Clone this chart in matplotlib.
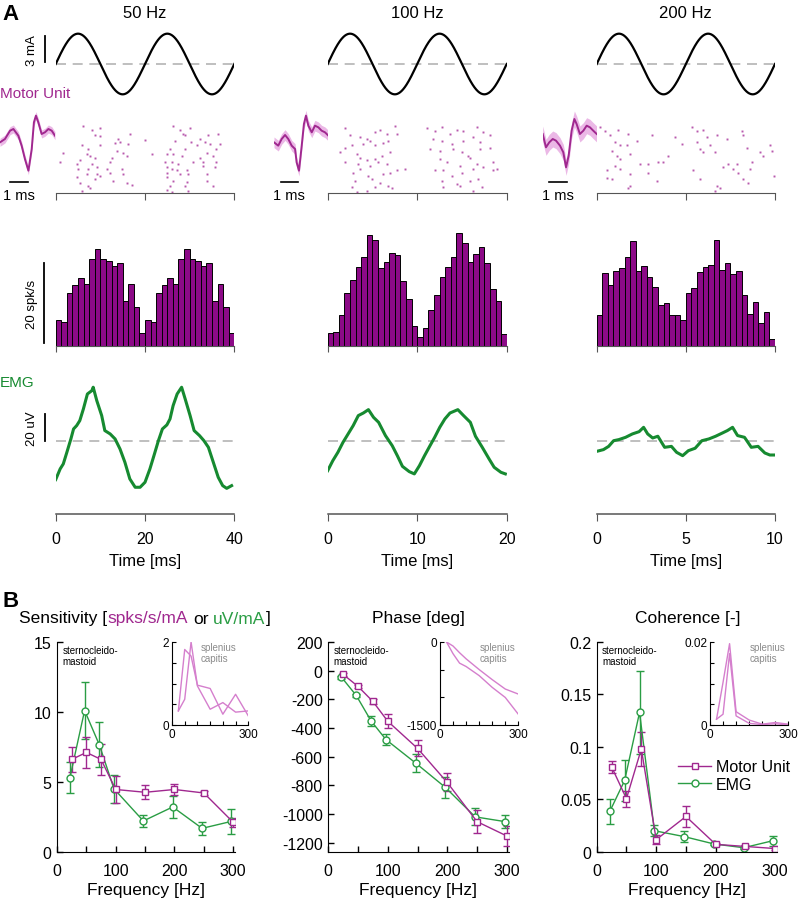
import numpy as np
import matplotlib
matplotlib.use("Agg")
import matplotlib.pyplot as plt
from matplotlib.lines import Line2D

plt.rcParams["font.family"] = ["Liberation Sans", "DejaVu Sans"]
plt.rcParams["axes.unicode_minus"] = False

W, H = 800, 904

MU_COLOR = "#a0288f"
MU_LIGHT = "#d57fcd"
BAND_COLOR = "#ebb8e6"
DOT_COLOR = "#b85aae"
BAR_COLOR = "#8c0a87"
EMG_COLOR = "#168a30"
GREEN = "#2a9d44"
DASH_COLOR = "#b4b4b4"
AXIS_GREY = "#555555"

# ---------------- panel A data ----------------
STIM_FREQS = [50, 100, 200]          # Hz
WINDOWS_MS = [40, 20, 10]            # two stimulus cycles
STIM_AMP_MA = 3.5

# mean motor unit waveform (ms, a.u.) and its spread
WAVE_50_T = [0, 0.27, 0.55, 0.73, 1.0, 1.18, 1.36, 1.55, 1.73, 1.85, 1.96, 2.09, 2.27, 2.45, 2.64, 2.82, 3.0]
WAVE_50_V = [0, 1.0, 3.5, 4.0, 2.0, -1.0, -5.0, -8.5, -2.0, 6.0, 8.0, 6.0, 2.5, 3.0, 4.0, 3.5, 2.0]
WAVE_100_T = [0, 0.25, 0.45, 0.65, 0.84, 1.04, 1.24, 1.33, 1.47, 1.63, 1.76, 1.88, 2.02, 2.22, 2.41, 2.61, 2.80, 3.0, 3.2]
WAVE_100_V = [0, -1.0, 1.0, 2.2, 1.0, -1.0, -2.0, -6.0, -8.5, -1.0, 5.5, 8.0, 5.0, 3.0, 5.0, 4.5, 3.5, 3.0, 2.0]
WAVE_200_T = [0, 0.19, 0.38, 0.58, 0.77, 1.0, 1.19, 1.35, 1.5, 1.67, 1.83, 1.96, 2.15, 2.35, 2.54, 2.73, 2.92, 3.12]
WAVE_200_V = [2.5, -1.5, 0, 1.0, 0.5, -1.0, -3.0, -7.5, -4.0, 3.5, 7.0, 5.5, 2.5, 3.5, 5.0, 4.5, 3.5, 2.5]
WAVE_SPREAD = [1.2, 1.6, 2.4]

# spike raster (time in ms, trial number)
RASTER_50 = [
    (6.2, 1), (8.1, 4), (9.9, 3), (8.8, 9), (9.9, 10), (14.0, 12), (16.6, 8), (13.3, 16), (14.4, 15),
    (5.8, 18), (7.3, 21), (9.9, 18), (16.3, 17), (20.0, 13), (1.7, 25), (6.9, 26), (7.7, 27), (13.7, 23),
    (15.1, 25), (15.9, 27), (21.5, 26), (5.4, 31), (8.8, 29), (12.5, 29), (1.0, 33), (4.7, 34), (8.1, 34),
    (12.2, 33), (9.2, 37), (5.1, 39), (7.3, 39), (11.4, 39), (14.8, 39), (6.9, 43), (9.2, 43), (9.9, 45),
    (12.2, 42), (15.1, 43), (4.7, 46), (8.8, 48), (12.9, 49), (5.4, 51), (7.3, 54), (17.0, 53), (5.8, 58),
    (7.7, 56), (15.9, 51),
    (26.2, 1), (27.8, 4), (30.1, 3), (28.4, 8), (29.0, 9), (32.3, 12), (34.2, 9), (36.4, 8), (26.7, 14),
    (30.4, 15), (33.4, 15), (34.6, 17), (36.8, 17), (31.6, 18), (25.6, 21), (29.0, 21), (36.0, 21),
    (24.9, 26), (26.3, 26), (28.2, 27), (33.8, 25), (32.3, 29), (35.3, 27), (24.5, 33), (26.0, 33),
    (27.5, 34), (30.8, 33), (33.1, 33), (36.0, 33), (24.9, 37), (26.0, 39), (27.1, 40), (29.3, 40),
    (33.1, 36), (35.7, 37), (24.9, 42), (27.8, 43), (29.7, 43), (33.8, 43), (24.9, 46), (26.3, 49),
    (29.3, 50), (33.8, 49), (25.6, 54), (29.0, 54), (35.3, 54), (24.9, 57), (29.7, 58), (26.0, 59),
]
RASTER_100 = [
    (1.94, 3), (2.50, 9), (3.61, 11), (4.43, 12), (5.29, 6), (5.85, 4), (6.59, 8), (7.52, 1), (7.71, 8),
    (1.38, 24), (1.94, 20), (2.68, 18), (3.99, 17), (4.73, 14), (5.29, 18), (6.22, 16), (6.78, 14),
    (3.24, 26), (3.61, 29), (4.36, 31), (5.29, 30), (6.03, 27), (6.96, 24), (1.94, 33), (3.43, 34),
    (4.73, 36), (5.66, 33), (6.59, 34), (2.87, 42), (3.61, 39), (4.54, 45), (6.22, 43), (6.96, 42),
    (7.71, 40), (8.64, 39), (3.05, 49), (4.92, 48), (5.85, 51), (6.78, 54), (2.68, 55), (5.29, 55),
    (7.15, 56), (3.24, 59), (4.36, 58),
    (11.06, 3), (11.99, 5), (12.74, 2), (13.67, 8), (14.41, 4), (15.16, 5), (16.65, 2), (17.39, 6),
    (18.14, 9), (11.81, 12), (12.74, 14), (13.85, 17), (15.16, 14), (16.28, 11), (17.02, 15), (11.43, 21),
    (12.55, 23), (14.04, 21), (14.97, 24), (15.90, 29), (17.02, 21), (18.14, 20), (12.55, 30), (13.30, 33),
    (14.79, 36), (15.72, 27), (16.65, 34), (18.51, 33), (11.99, 40), (12.92, 40), (13.85, 45), (14.97, 42),
    (16.28, 39), (17.39, 37), (18.88, 39), (12.74, 49), (14.41, 52), (15.90, 49), (16.83, 48), (18.51, 40),
    (12.92, 55), (14.79, 54), (16.28, 58), (17.21, 55),
]
RASTER_200 = [
    (0.19, 2), (0.47, 5), (1.21, 4), (1.78, 8), (0.75, 9), (1.03, 15), (1.31, 18), (1.68, 18), (2.24, 14),
    (3.08, 9), (0.84, 23), (1.12, 27), (1.87, 26), (1.31, 30), (0.56, 40), (1.03, 36), (1.31, 39),
    (0.84, 48), (0.56, 47), (1.87, 43), (2.43, 34), (2.90, 34), (3.46, 33), (2.90, 42), (3.36, 49),
    (3.74, 33), (1.87, 54), (1.78, 56), (4.02, 27), (4.77, 17), (4.39, 11),
    (5.33, 2), (5.61, 5), (5.98, 4), (6.17, 11), (5.61, 15), (5.79, 21), (5.98, 24), (6.36, 18),
    (6.64, 24), (6.73, 9), (7.29, 12), (8.22, 9), (8.13, 5), (8.41, 20), (9.35, 27), (9.72, 18),
    (9.81, 23), (7.10, 37), (7.38, 34), (7.66, 39), (7.94, 42), (7.85, 34), (8.69, 33), (8.50, 51),
    (8.60, 39), (9.16, 24), (5.79, 48), (5.42, 40), (6.73, 54), (6.92, 56), (6.64, 58), (9.95, 45),
    (8.22, 48),
]

# firing rate histograms, 32 bins over the window (spk/s)
HIST_50 = [6.5, 6.0, 13.2, 15.2, 17.1, 15.4, 21.7, 24.2, 21.8, 21.3, 20.0, 20.8, 11.3, 15.4, 9.8, 3.3,
           6.5, 6.0, 13.2, 15.2, 17.1, 15.4, 21.7, 24.2, 21.8, 21.3, 20.0, 20.8, 11.3, 15.4, 9.8, 3.3]
HIST_100 = [3.2, 3.6, 7.8, 13.3, 16.6, 19.8, 22.3, 27.8, 26.5, 19.4, 21.0, 23.2, 22.7, 16.3, 11.7, 5.0,
            2.3, 4.6, 9.0, 12.7, 17.3, 19.8, 22.3, 28.3, 25.7, 21.1, 23.1, 24.8, 20.7, 14.2, 11.3, 3.1]
HIST_200 = [7.7, 18.2, 15.3, 18.8, 19.6, 22.3, 26.3, 18.8, 20.0, 17.3, 14.8, 10.3, 10.8, 7.7, 7.7, 6.4,
            13.3, 14.6, 18.6, 19.8, 20.2, 26.6, 19.0, 20.8, 17.9, 18.8, 12.8, 8.1, 11.1, 5.8, 8.5, 1.8]

# averaged EMG (ms, uV)
EMG_50_T = [0.0, 1.0, 1.7, 2.5, 3.4, 4.0, 4.7, 5.4, 6.2, 7.1, 8.1, 8.4, 9.2, 10.3, 11.0, 12.2, 13.3, 14.4,
            15.5, 16.6, 17.8, 18.9, 20.0, 21.1, 22.0, 23.0, 23.9, 24.9, 25.6, 26.3, 27.2, 28.2, 29.0, 30.1,
            31.0, 32.2, 33.2, 34.2, 35.3, 36.4, 37.4, 38.3, 39.4]
EMG_50_V = [-28.6, -20.7, -17.0, -8.4, 1.5, 8.9, 11.4, 15.1, 23.7, 34.8, 37.3, 39.8, 29.9, 18.8, 7.7, 5.2,
            1.5, -5.9, -15.8, -28.1, -34.3, -34.3, -30.6, -20.7, -10.9, 0.2, 8.9, 11.9, 16.3, 26.2, 34.8,
            39.8, 31.1, 18.8, 7.7, 4.0, 0.2, -4.7, -15.8, -26.9, -33.1, -35.1, -33.1]
EMG_100_T = [0, 0.57, 1.14, 1.71, 2.28, 2.85, 3.42, 3.98, 4.55, 5.12, 5.69, 6.45, 7.21, 7.78, 8.35, 9.11,
             9.68, 10.25, 10.82, 11.39, 11.95, 12.52, 13.09, 13.66, 14.54, 15.18, 15.94, 16.51, 17.27,
             18.03, 18.60, 19.35, 19.85]
EMG_100_V = [-22.0, -14.6, -8.4, -1.0, 5.2, 11.4, 18.8, 20.7, 23.2, 17.5, 13.8, 4.0, -3.5, -10.9, -18.8,
             -22.7, -24.4, -18.3, -10.9, -4.0, 2.7, 10.1, 16.3, 20.7, 23.2, 18.8, 13.8, 3.5, -4.7, -13.3,
             -19.5, -23.2, -24.4]
EMG_200_T = [0, 0.38, 0.67, 0.95, 1.24, 1.62, 2.0, 2.38, 2.63, 2.86, 3.14, 3.43, 3.81, 4.19, 4.48, 4.82,
             5.14, 5.52, 5.90, 6.29, 6.67, 7.05, 7.33, 7.62, 7.90, 8.29, 8.67, 9.05, 9.43, 9.71, 9.96]
EMG_200_V = [-7.7, -6.4, -4.0, 0.2, 1.0, 2.7, 5.2, 6.9, 10.1, 5.2, 2.2, 3.5, -4.7, -4.0, -8.4, -10.9, -7.2,
             -5.4, 0.2, 1.5, 3.5, 5.9, 7.7, 10.1, 4.0, 2.7, -4.7, -4.0, -8.9, -10.4, -10.4]

# ---------------- panel B data ----------------
FREQ = [25, 50, 75, 100, 150, 200, 250, 300]
SENS_MU = [6.6, 7.1, 6.6, 4.45, 4.25, 4.45, 4.2, 2.1]
SENS_MU_ERR = [0.9, 1.1, 1.1, 1.0, 0.5, 0.4, 0.15, 0.3]
SENS_EMG = [5.3, 10.1, 7.65, 4.5, 2.2, 3.2, 1.67, 2.17]
SENS_EMG_ERR = [1.1, 2.05, 1.6, 1.0, 0.4, 0.8, 0.45, 0.9]
PHASE_MU = [-26, -110, -215, -353, -542, -780, -1053, -1153]
PHASE_MU_ERR = [12, 12, 15, 48, 55, 63, 80, 70]
PHASE_EMG = [-45, -173, -351, -481, -645, -815, -1020, -1053]
PHASE_EMG_ERR = [10, 12, 35, 38, 63, 70, 60, 48]
COH_MU = [0.081, 0.0506, 0.098, 0.0115, 0.0336, 0.007, 0.005, 0.003]
COH_MU_ERR = [0.0055, 0.0077, 0.016, 0.004, 0.010, 0.001, 0.001, 0.001]
COH_EMG = [0.0384, 0.068, 0.1328, 0.020, 0.0144, 0.0074, 0.0038, 0.0106]
COH_EMG_ERR = [0.0123, 0.0195, 0.040, 0.0053, 0.0054, 0.001, 0.001, 0.0048]

# splenius capitis insets (two motor units each)
SENS_SPL_1 = [0.34, 1.82, 1.66, 0.96, 0.88, 0.26, 0.74, 0.22]
SENS_SPL_2 = [0.34, 0.62, 2.0, 0.94, 0.38, 0.54, 0.31, 0.34]
PHASE_SPL_1 = [0, -73, -194, -304, -498, -680, -850, -941]
PHASE_SPL_2 = [0, -212, -382, -443, -607, -820, -1002, -1305]
COH_SPL_1 = [0.0014, 0.0103, 0.0196, 0.0032, 0.0012, 0.0002, 0.0006, 0.0002]
COH_SPL_2 = [0.0014, 0.0026, 0.0172, 0.0022, 0.0004, 0.0001, 0.0003, 0.0]

fig = plt.figure(figsize=(W / 100, H / 100), dpi=100)


def px_axes(left, top, right, bottom):
    return fig.add_axes([left / W, 1 - bottom / H, (right - left) / W, (bottom - top) / H])


def ftext(x, y, s, **kw):
    return fig.text(x / W, 1 - y / H, s, **kw)


# ---------------- A ----------------
COL_PX = [(55.7, 234.3), (327.7, 506.7), (596.7, 775.0)]
WAVE_PX = [(0.0, 55.0), (274.0, 328.4), (542.7, 596.7)]
BAR_1MS = [(0.55, 1.55), (0.39, 1.39), (0.38, 1.38)]
waves = [(WAVE_50_T, WAVE_50_V), (WAVE_100_T, WAVE_100_V), (WAVE_200_T, WAVE_200_V)]
rasters = [RASTER_50, RASTER_100, RASTER_200]
hists = [HIST_50, HIST_100, HIST_200]
emgs = [(EMG_50_T, EMG_50_V), (EMG_100_T, EMG_100_V), (EMG_200_T, EMG_200_V)]

ftext(2, 14, "A", fontsize=16, fontweight="bold", va="center", ha="left")
ftext(0, 94, "Motor Unit", fontsize=11, color=MU_COLOR, va="center", ha="left")
ftext(0, 383, "EMG", fontsize=11, color=EMG_COLOR, va="center", ha="left")

for i, (freq, win) in enumerate(zip(STIM_FREQS, WINDOWS_MS)):
    x0, x1 = COL_PX[i]
    ftext((x0 + x1) / 2, 13, f"{freq} Hz", fontsize=12, ha="center", va="center")

    # stimulus current
    ax = px_axes(x0, 30, x1, 100)
    t = np.linspace(0, win, 500)
    ax.plot([0, win], [0, 0], color=DASH_COLOR, lw=1.2, dashes=(6, 4))
    ax.plot(t, STIM_AMP_MA * np.sin(2 * np.pi * freq * t / 1000.0), color="black", lw=1.6)
    ax.set_xlim(0, win)
    ax.set_ylim(-4.04, 4.04)
    ax.axis("off")
    if i == 0:
        ax.plot([-2.4, -2.4], [0.2, 3.2], color="black", lw=1.3, clip_on=False)
        ax.text(-5.3, 1.7, "3 mA", rotation=90, fontsize=9.5, ha="center", va="center")

    # spike waveform
    wl, wr = WAVE_PX[i]
    wt, wv = np.array(waves[i][0]), np.array(waves[i][1])
    axw = px_axes(wl, 110, wr, 178)
    axw.fill_between(wt, wv - WAVE_SPREAD[i], wv + WAVE_SPREAD[i], color=BAND_COLOR, lw=0)
    axw.plot(wt, wv, color=MU_COLOR, lw=1.4)
    axw.set_xlim(0, wt[-1])
    axw.set_ylim(-10.4, 10.0)
    axw.axis("off")
    b0, b1 = BAR_1MS[i]
    axw.plot([b0, b1], [-11.9, -11.9], color="black", lw=1.2, clip_on=False)
    axw.text((b0 + b1) / 2, -15.8, "1 ms", fontsize=10.5, ha="center", va="center")

    # raster
    axr = px_axes(x0, 124, x1, 194)
    rt = [p[0] for p in rasters[i]]
    rn = [p[1] for p in rasters[i]]
    axr.plot(rt, rn, ls="none", marker="s", ms=1.4, mew=0, color=DOT_COLOR)
    axr.set_xlim(0, win)
    axr.set_ylim(60, -1.77)
    for s in ("top", "right", "left"):
        axr.spines[s].set_visible(False)
    axr.spines["bottom"].set_color(AXIS_GREY)
    axr.set_xticks([0, win / 2, win])
    axr.set_xticklabels([])
    axr.set_yticks([])
    axr.tick_params(axis="x", direction="out", length=5, color=AXIS_GREY)

    # histogram
    axh = px_axes(x0, 230, x1, 347)
    nb = len(hists[i])
    edges = np.arange(nb) * win / nb
    axh.bar(edges, hists[i], width=win / nb, align="edge", color=BAR_COLOR,
            edgecolor="black", linewidth=0.7)
    axh.set_xlim(0, win)
    axh.set_ylim(0, 29.25)
    for s in ("top", "right", "left"):
        axh.spines[s].set_visible(False)
    axh.spines["bottom"].set_color(AXIS_GREY)
    axh.set_xticks([0, win / 2, win])
    axh.set_xticklabels([])
    axh.set_yticks([])
    axh.tick_params(axis="x", direction="out", length=4, color=AXIS_GREY)
    if i == 0:
        axh.plot([-2.55, -2.55], [0.75, 20.75], color="black", lw=1.3, clip_on=False)
        axh.text(-5.3, 10.75, "20 spk/s", rotation=90, fontsize=9.5, ha="center", va="center")

    # EMG
    axe = px_axes(x0, 380, x1, 515)
    axe.plot([0, win], [0, 0], color=DASH_COLOR, lw=1.2, dashes=(6, 4))
    axe.plot(emgs[i][0], emgs[i][1], color=EMG_COLOR, lw=2.2)
    axe.set_xlim(0, win)
    axe.set_ylim(-54.1, 45.9)
    for s in ("top", "right", "left"):
        axe.spines[s].set_visible(False)
    axe.spines["bottom"].set_color(AXIS_GREY)
    axe.spines["bottom"].set_linewidth(1.1)
    ticks = [0, win / 2, win]
    axe.set_xticks(ticks)
    axe.set_xticklabels([f"{v:g}" for v in ticks])
    axe.set_yticks([])
    axe.tick_params(axis="x", direction="out", length=5, color=AXIS_GREY, labelsize=11.5, pad=7)
    axe.set_xlabel("Time [ms]", fontsize=12, labelpad=5)
    if i == 0:
        axe.plot([-2.5, -2.5], [0, 20], color="black", lw=1.3, clip_on=False)
        axe.text(-5.3, 10, "20 uV", rotation=90, fontsize=9.5, ha="center", va="center")

# ---------------- B ----------------
ftext(2, 602, "B", fontsize=16, fontweight="bold", va="center", ha="left")


def colored_title(cx, cy, parts, size):
    texts = [ftext(0, cy, s, color=c, fontsize=size, va="center", ha="left") for s, c, _ in parts]
    renderer = fig.canvas.get_renderer()
    space = 0.278 * size * 100 / 72
    widths = [t.get_window_extent(renderer).width for t in texts]
    gaps = [g * space for _, _, g in parts]
    total = sum(widths) + sum(gaps)
    x = cx - total / 2
    for t, w, g in zip(texts, widths, gaps):
        x += g
        t.set_x(x / W)
        x += w


colored_title(145, 619, [("Sensitivity [", "black", 0), ("spks/s/mA", MU_COLOR, 0),
                         ("or", "black", 1), ("uV/mA", GREEN, 1), ("]", "black", 0)], 12.5)
ftext(418, 619, "Phase [deg]", fontsize=12.5, ha="center", va="center")
ftext(688, 619, "Coherence [-]", fontsize=12.5, ha="center", va="center")

freq_mu = np.array(FREQ)
freq_emg = freq_mu - 3

main_specs = [
    ((57, 643, 235, 852.7), (0, 15), [0, 5, 10, 15], ["0", "5", "10", "15"],
     SENS_MU, SENS_MU_ERR, SENS_EMG, SENS_EMG_ERR),
    ((328.3, 643, 508.5, 852.7), (-1263, 200), [200, 0, -200, -400, -600, -800, -1000, -1200],
     ["200", "0", "-200", "-400", "-600", "-800", "-1000", "-1200"],
     PHASE_MU, PHASE_MU_ERR, PHASE_EMG, PHASE_EMG_ERR),
    ((596.7, 643, 777, 852.7), (0, 0.2), [0, 0.05, 0.1, 0.15, 0.2], ["0", "0.05", "0.1", "0.15", "0.2"],
     COH_MU, COH_MU_ERR, COH_EMG, COH_EMG_ERR),
]
inset_specs = [
    ((172, 643, 248.3, 726), (0, 2), [0, 0.5, 1, 1.5, 2], ["0", "", "", "", "2"],
     SENS_SPL_1, SENS_SPL_2, 0.37),
    ((440, 643, 518.3, 726), (-1500, 0), [0, -500, -1000, -1500], ["0", "", "", "-1500"],
     PHASE_SPL_1, PHASE_SPL_2, 0.51),
    ((710, 643, 788.3, 726), (0, 0.02), [0, 0.005, 0.01, 0.015, 0.02], ["0", "", "", "", "0.02"],
     COH_SPL_1, COH_SPL_2, 0.51),
]

for k in range(3):
    box, ylim, yt, ytl, mu, mu_e, emg, emg_e = main_specs[k]
    ax = px_axes(*box)
    ax.errorbar(freq_emg, emg, yerr=emg_e, color=GREEN, marker="o", ms=5, mfc="white", mew=1,
                lw=1, elinewidth=1, capsize=3, capthick=1)
    ax.errorbar(freq_mu, mu, yerr=mu_e, color=MU_COLOR, marker="s", ms=5, mfc="white", mew=1,
                lw=1, elinewidth=1, capsize=3, capthick=1)
    ax.set_xlim(0, 303)
    ax.set_ylim(*ylim)
    ax.set_xticks([0, 100, 200, 300])
    ax.set_xticks([50, 150, 250], minor=True)
    ax.set_yticks(yt)
    ax.set_yticklabels(ytl)
    for s in ("top", "right"):
        ax.spines[s].set_visible(False)
    ax.tick_params(which="both", direction="in", length=4, width=1, labelsize=11.5, pad=4)
    ax.tick_params(axis="x", pad=8)
    ax.set_xlabel("Frequency [Hz]", fontsize=12.5, labelpad=3)
    ax.text(0.03, 0.985, "sternocleido-\nmastoid", transform=ax.transAxes, fontsize=7,
            ha="left", va="top", linespacing=1.1)

    ibox, ilim, iyt, iytl, s1, s2, tx = inset_specs[k]
    axi = px_axes(*ibox)
    axi.plot(FREQ, s1, color=MU_LIGHT, lw=1)
    axi.plot(FREQ, s2, color=MU_LIGHT, lw=1)
    axi.set_xlim(0, 300)
    axi.set_ylim(*ilim)
    axi.set_xticks([0, 50, 100, 150, 200, 250, 300])
    axi.set_xticklabels(["0", "", "", "", "", "", "300"])
    axi.set_yticks(iyt)
    axi.set_yticklabels(iytl)
    for s in ("top", "right"):
        axi.spines[s].set_visible(False)
    axi.tick_params(direction="in", length=3, width=0.8, labelsize=8.5, pad=2)
    axi.text(tx, 1.0, "splenius\ncapitis", transform=axi.transAxes, fontsize=7, color="#8c8c8c",
             ha="left", va="top", linespacing=1.1)

    if k == 2:
        handles = [
            Line2D([], [], color=MU_COLOR, marker="s", ms=5, mfc="white", lw=1),
            Line2D([], [], color=GREEN, marker="o", ms=5, mfc="white", lw=1),
        ]
        ax.legend(handles, ["Motor Unit", "EMG"], loc="upper left", bbox_to_anchor=(0.45, 0.44),
                  frameon=False, fontsize=11.5, borderpad=0, borderaxespad=0, handlelength=2.1,
                  handletextpad=0.3, labelspacing=0.15)

fig.savefig("out.png", dpi=100)
